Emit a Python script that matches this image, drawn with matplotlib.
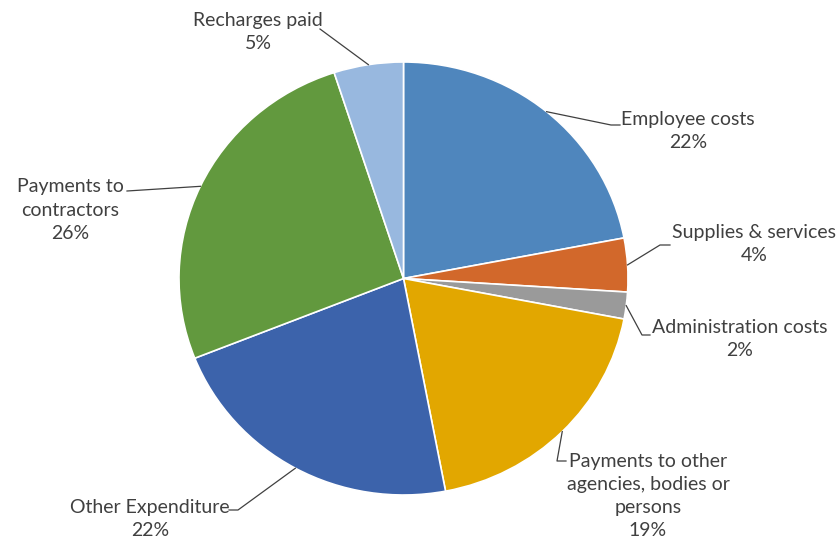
import matplotlib

matplotlib.use("Agg")
import matplotlib.pyplot as plt
import numpy as np

categories = [
    "Employee costs",
    "Supplies & services",
    "Administration costs",
    "Payments to other\nagencies, bodies or\npersons",
    "Other Expenditure",
    "Payments to\ncontractors",
    "Recharges paid",
]
shares = [22, 4, 2, 19, 22, 26, 5]
colors = ["#4f86bd", "#d2682b", "#9a9a9a", "#e2a700", "#3c63ab", "#62993e", "#98b8df"]

# pie ellipse in image pixels (the source chart is slightly squashed vertically)
CX, CY, RX, RY = 403.5, 278.5, 224.5, 216.5
W, H = 840, 541


def px(x, y):
    return (x - CX) / RX, (CY - y) / RY


# label anchor (text centre) and elbow points of the leader line
label_layout = [
    dict(text=(688, 131), path=[(611, 125), (620, 125)]),
    dict(text=(754, 244), path=[(660, 245), (670, 245)]),
    dict(text=(740, 339), path=[(642, 335), (650, 335)]),
    dict(text=(648, 496), path=[(557, 461), (566, 461)]),
    dict(text=(150, 519), path=[(238, 510), (229, 510)]),
    dict(text=(70, 210), path=[(127, 191)]),
    dict(text=(258, 32), path=[(320, 29)]),
]

fig = plt.figure(figsize=(W / 100, H / 100), dpi=100)
ax = fig.add_axes([(CX - RX) / W, (H - CY - RY) / H, 2 * RX / W, 2 * RY / H])
wedges, _ = ax.pie(
    shares, colors=colors, startangle=90, counterclock=False, radius=1,
    wedgeprops=dict(edgecolor="white", linewidth=1.2),
)
ax.set_aspect("auto")
ax.set_xlim(-1, 1)
ax.set_ylim(-1, 1)
ax.axis("off")

for wedge, name, pct, lay in zip(wedges, categories, shares, label_layout):
    mid = np.deg2rad((wedge.theta1 + wedge.theta2) / 2)
    pts = [(np.cos(mid), np.sin(mid))] + [px(*p) for p in lay["path"]]
    xs, ys = zip(*pts)
    ax.plot(xs, ys, color="#404040", lw=0.9, clip_on=False)
    tx, ty = px(*lay["text"])
    ax.text(tx, ty, f"{name}\n{pct}%", ha="center", va="center",
            fontsize=14, family="Lato", color="#404040", linespacing=1.45,
            clip_on=False)

fig.savefig("out.png", dpi=100, facecolor="white")
